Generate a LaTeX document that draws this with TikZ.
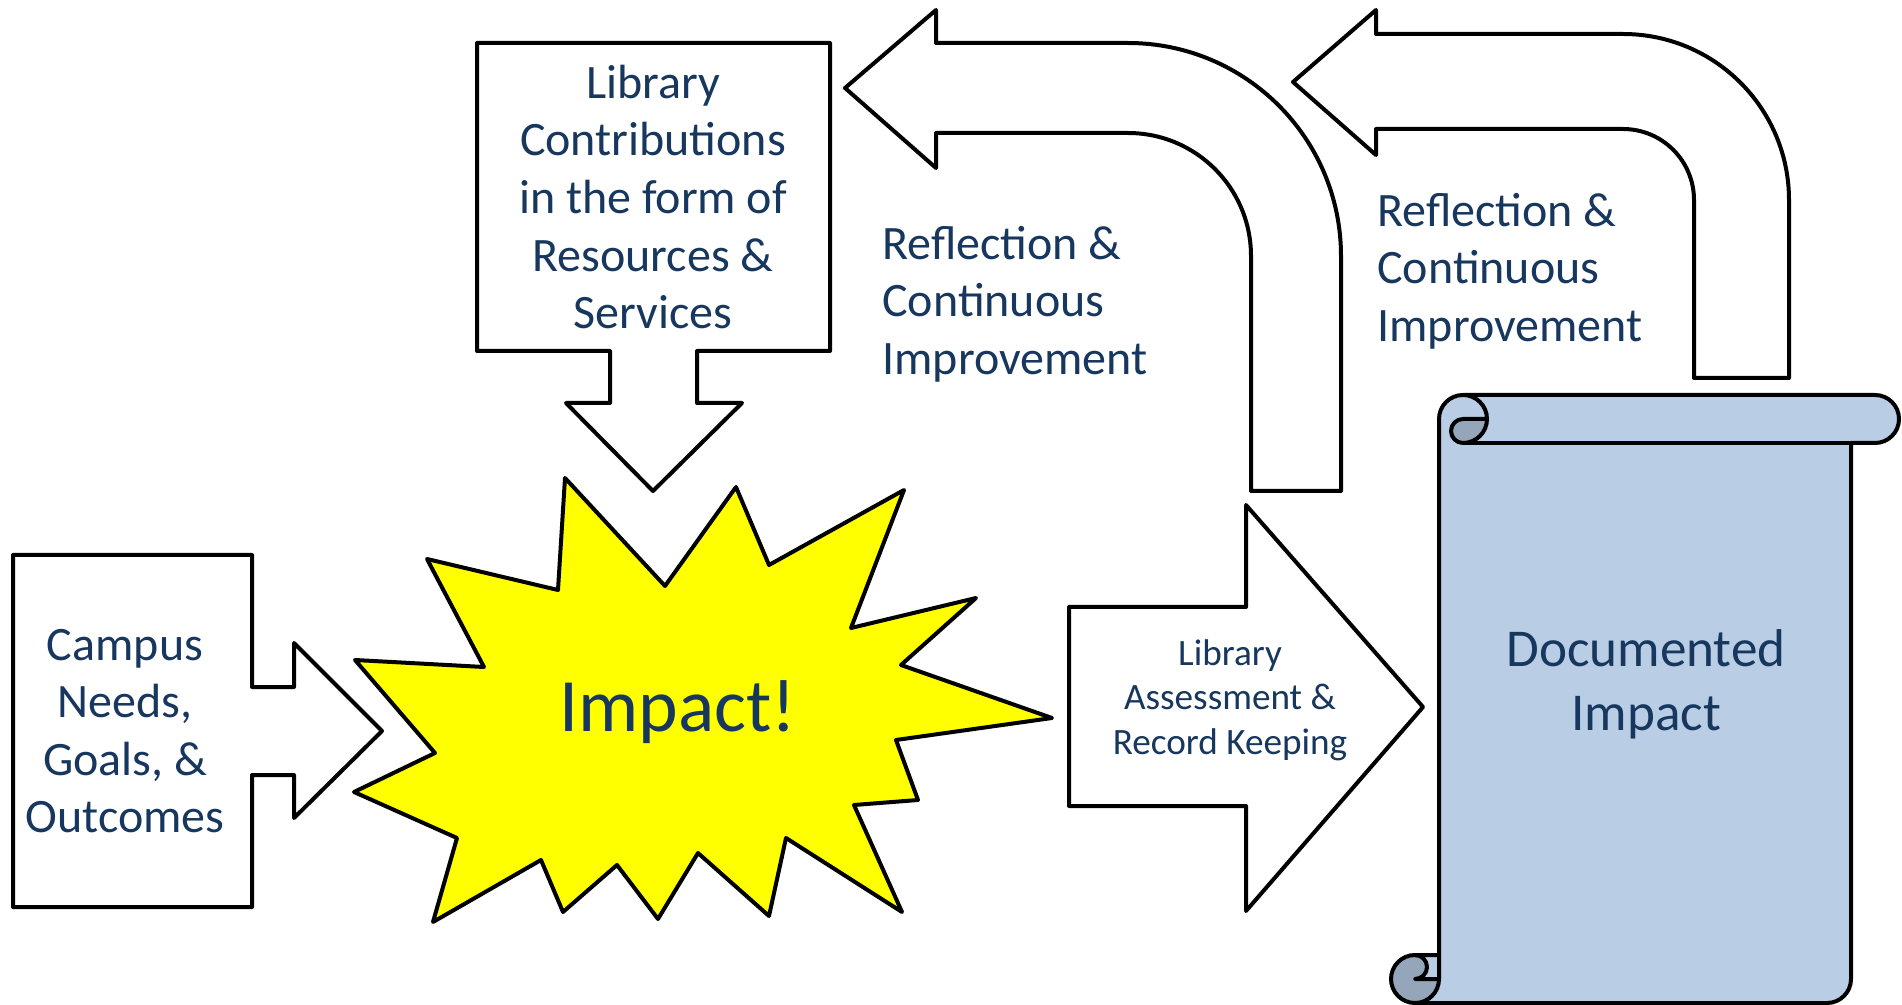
\documentclass[tikz,border=0pt]{standalone}
\usepackage{fontspec}
\setmainfont{Carlito}
\definecolor{txtblue}{RGB}{23,55,94}
\definecolor{scrollblue}{RGB}{185,205,229}
\definecolor{scrolldark}{RGB}{149,166,186}
\definecolor{burstyellow}{RGB}{255,255,0}

\begin{document}
\begin{tikzpicture}[x=0.5pt,y=-0.5pt,
    blockshape/.style={draw=black,fill=white,line width=2pt,line join=round},
    scrollline/.style={draw=black,line width=2pt,line join=round},
    lbl/.style={text=txtblue,inner sep=0pt,align=center},
    bigtext/.style={font=\fontsize{24}{28.8}\selectfont}]
  \useasboundingbox (0,0) rectangle (1902,1005);
  % campus needs, arrow to the right
  \draw[blockshape] (13,555) -- (252,555) -- (252,687) -- (294,687) -- (294,643)
    -- (382,731) -- (294,818) -- (294,775) -- (252,775) -- (252,907) -- (13,907) -- cycle;
  \node[lbl,bigtext] (campus) at (125,731) {Campus\\Needs,\\Goals, \&\\Outcomes};
  % library contributions, arrow down
  \draw[blockshape] (477,43) -- (830,43) -- (830,351) -- (697,351) -- (697,403) -- (742,403)
    -- (653,491) -- (566,403) -- (610,403) -- (610,351) -- (477,351) -- cycle;
  \node[lbl,bigtext] (contrib) at (653,197) {Library\\Contributions\\in the form of\\Resources \&\\Services};
  % burst
  \draw[blockshape,fill=burstyellow] plot coordinates {(565,478) (665,586) (736,487) (769,565)
    (904,490) (851,628) (976,598) (901,665) (1052,718) (896,740) (918,800) (854,805)
    (902,912) (786,838) (769,916) (698,853) (658,919) (617,865) (563,912) (541,860)
    (433,922) (457,838) (354,792) (435,753) (355,660) (484,667) (427,559) (558,590)} -- cycle;
  \node[lbl,font=\fontsize{37.7}{45}\selectfont,anchor=base] (impact) at (678,731) {Impact!};
  % assessment arrow
  \draw[blockshape] (1069,607) -- (1246,607) -- (1246,505) -- (1423,707) -- (1246,911)
    -- (1246,806) -- (1069,806) -- cycle;
  \node[lbl,font=\fontsize{18.6}{22.3}\selectfont] (assess) at (1230,700) {Library\\Assessment \&\\Record Keeping};
  % bent arrows back
  \draw[blockshape] (845,88) -- (936,10) -- (936,43) -- (1128,43)
    arc[start angle=270,delta angle=90,radius=213] -- (1341,491) -- (1251,491) -- (1251,256)
    arc[start angle=0,delta angle=-90,radius=123] -- (936,133) -- (936,168) -- cycle;
  \draw[blockshape] (1293,82) -- (1376,10) -- (1376,34) -- (1623,34)
    arc[start angle=270,delta angle=90,radius=166] -- (1789,378) -- (1694,378) -- (1694,200)
    arc[start angle=0,delta angle=-90,radius=71] -- (1376,129) -- (1376,155) -- cycle;
  \node[lbl,bigtext,align=left,anchor=west] (refl1) at (882,304) {Reflection \&\\Continuous\\Improvement};
  \node[lbl,bigtext,align=left,anchor=west] (refl2) at (1377,271) {Reflection \&\\Continuous\\Improvement};
  % scroll
  \fill[scrollblue] (1439,955) -- (1439,419) arc[start angle=180,delta angle=90,radius=24]
    -- (1875,395) arc[start angle=270,delta angle=180,radius=24] -- (1851,443)
    -- (1851,979) arc[start angle=0,delta angle=90,radius=24]
    -- (1415,1003) arc[start angle=90,delta angle=180,radius=24] -- cycle;
  \fill[scrolldark] (1487,419) arc[start angle=0,delta angle=90,radius=24]
    arc[start angle=90,delta angle=180,radius=12] -- cycle;
  \fill[scrolldark] (1439,979) arc[start angle=0,delta angle=270,radius=24]
    arc[start angle=270,delta angle=180,radius=12] -- cycle;
  \draw[scrollline] (1439,955) -- (1439,419) arc[start angle=180,delta angle=90,radius=24]
    -- (1875,395) arc[start angle=270,delta angle=180,radius=24] -- (1851,443)
    -- (1851,979) arc[start angle=0,delta angle=90,radius=24]
    -- (1415,1003) arc[start angle=90,delta angle=180,radius=24] -- cycle;
  \draw[scrollline] (1463,395) arc[start angle=270,delta angle=180,radius=24]
    arc[start angle=90,delta angle=180,radius=12] -- (1487,419);
  \draw[scrollline] (1851,443) -- (1463,443);
  \draw[scrollline] (1415,955) arc[start angle=270,delta angle=180,radius=12] -- (1439,979);
  \draw[scrollline] (1415,1003) arc[start angle=90,delta angle=-90,radius=24] -- (1439,955);
  \node[lbl,font=\fontsize{26.6}{32}\selectfont] (doc) at (1646,684) {Documented\\Impact};
\end{tikzpicture}
\end{document}
